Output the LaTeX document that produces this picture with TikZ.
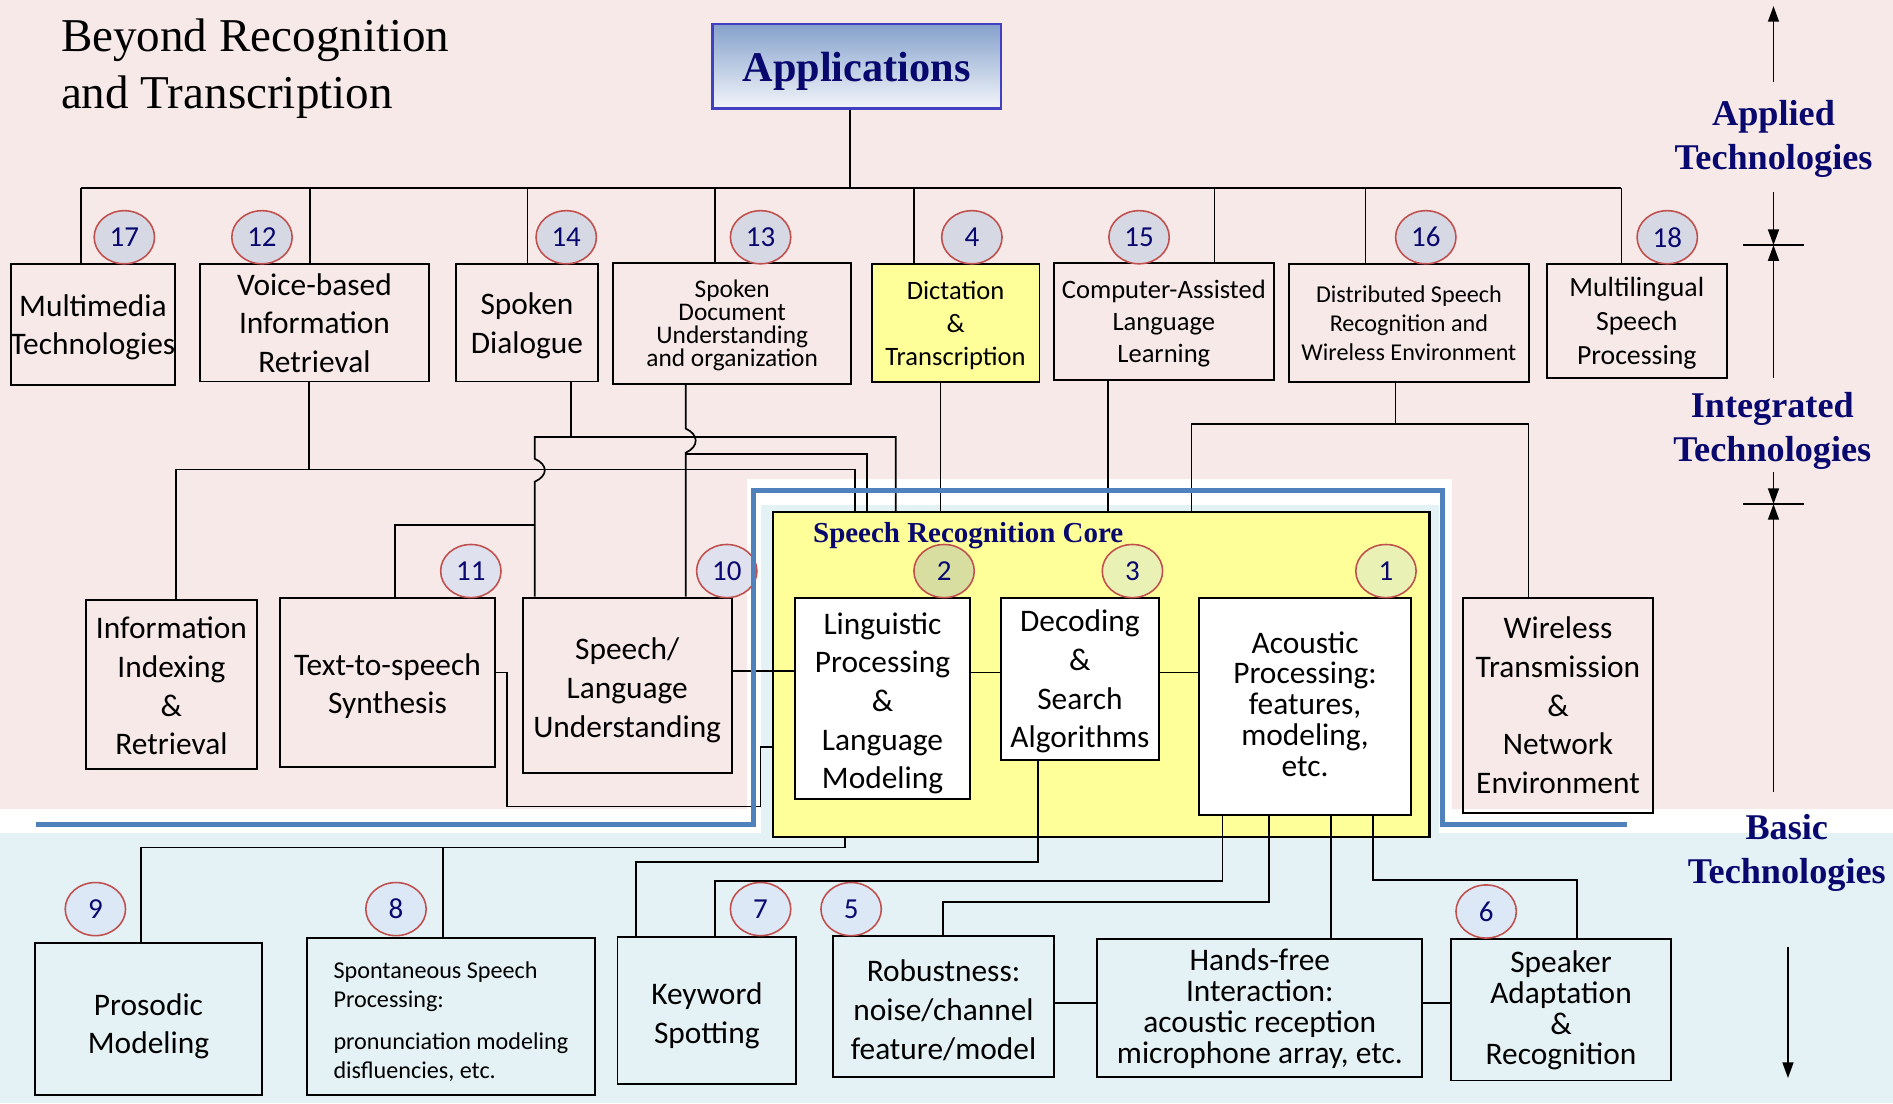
\documentclass[tikz,border=0pt]{standalone}
\usepackage{fontspec}
\setmainfont{Carlito}
\newfontfamily\tnr{Liberation Serif}
\usepackage{tikz}
\usetikzlibrary{shapes.geometric}
\usetikzlibrary{arrows.meta}
\definecolor{pinkbg}{RGB}{248,233,233}
\definecolor{bluebg}{RGB}{228,241,245}
\definecolor{coreyel}{RGB}{255,255,153}
\definecolor{frameblue}{RGB}{79,129,189}
\definecolor{navy}{RGB}{8,8,110}
\definecolor{numred}{RGB}{192,80,77}
\definecolor{numgray}{RGB}{214,216,228}
\definecolor{numlav}{RGB}{224,225,238}
\definecolor{numolive}{RGB}{216,222,160}
\definecolor{numlime}{RGB}{233,241,181}
\definecolor{numblue}{RGB}{220,232,246}
\definecolor{appblue}{RGB}{133,161,204}
\definecolor{appedge}{RGB}{64,64,192}
\newcommand{\tallline}[1]{\rule{0pt}{#1}}
\tikzset{bx/.style={draw, line width=1.6pt, align=center, inner sep=0pt, text depth=0pt, font=\fontsize{26}{32}\selectfont}}
\tikzset{num/.style={ellipse, draw=numred, line width=1.3pt, minimum width=50pt, minimum height=44pt, inner sep=0pt, text=navy, font=\fontsize{24}{24}\selectfont}}
\tikzset{hd/.style={align=center, text=navy, font=\tnr\bfseries\fontsize{30}{36}\selectfont}}
\tikzset{ln/.style={line width=1.4pt}}
\tikzset{arr/.style={line width=1.5pt, -{Triangle[length=13pt,width=9pt]}}}

\begin{document}
\setlength{\lineskiplimit}{-30pt}
\begin{tikzpicture}[x=1pt, y=-1pt]
  \useasboundingbox (0,0) rectangle (1568,914);
  \fill[pinkbg] (0,0) rectangle (1568,670);
  \fill[white] (0,670) rectangle (1568,690);
  \fill[bluebg] (0,690) rectangle (1568,914);
  \fill[white] (619,397) rectangle (1203,690);
  \fill[bluebg] (630,418) rectangle (1192,700);
  \node[draw, line width=1.8pt, fill=coreyel, minimum width=544pt, minimum height=269pt] (core) at (912,558.5) {};
  \node[anchor=base west, text=navy, font=\tnr\bfseries\fontsize{24}{24}\selectfont] (corelbl) at (670,449) {Speech Recognition Core};

  \node[anchor=west, align=left, font=\tnr\fontsize{39}{47}\selectfont] (title) at (47,57) {Beyond Recognition\\and Transcription};
  \node[draw=appedge, line width=2pt, top color=appblue, bottom color=white!90!appblue, minimum width=239pt, minimum height=70pt, text depth=0pt, text=navy, font=\tnr\bfseries\fontsize{35}{35}\selectfont] (app) at (709.5,55) {Applications};

  \node[bx, minimum width=136pt, minimum height=100pt] (MT) at (77,269) {Multimedia\\Technologies};
  \node[bx, minimum width=189pt, minimum height=97pt] (VIR) at (260.5,267.5) {Voice-based\\Information\\Retrieval};
  \node[bx, minimum width=118pt, minimum height=97pt] (SDG) at (436.5,267.5) {Spoken\\Dialogue};
  \node[bx, font=\fontsize{21}{19}\selectfont, minimum width=197pt, minimum height=100pt] (SDU) at (606.5,268) {Spoken\\Document\\Understanding\\and organization};
  \node[bx, font=\fontsize{22}{27}\selectfont, fill=coreyel, minimum width=139pt, minimum height=97.5pt] (DT) at (791.5,267.75) {Dictation\\\&\\Transcription};
  \node[bx, font=\fontsize{22}{26.5}\selectfont, minimum width=182pt, minimum height=97pt] (CAL) at (964,266.5) {Computer-Assisted\\Language\\Learning};
  \node[bx, font=\fontsize{20}{24}\selectfont, minimum width=198.5pt, minimum height=97.5pt] (DSR) at (1167,267.75) {Distributed Speech\\Recognition and\\Wireless Environment};
  \node[bx, font=\fontsize{23}{28}\selectfont, minimum width=149.5pt, minimum height=94pt] (MSP) at (1355.75,266) {Multilingual\\Speech\\Processing};

  \node[bx, minimum width=142pt, minimum height=140pt] (IIR) at (142,567) {\tallline{20.5pt}Information\\Indexing\\\&\\Retrieval};
  \node[bx, minimum width=178pt, minimum height=140pt] (TTS) at (321,565) {\tallline{20.5pt}Text-to-speech\\Synthesis};
  \node[bx, minimum width=173pt, minimum height=145pt] (SLU) at (519.5,567.5) {\tallline{22pt}Speech/\\Language\\Understanding};
  \node[bx, fill=white, minimum width=145pt, minimum height=167pt] (LPM) at (731,578.5) {\tallline{21.5pt}Linguistic\\Processing\\\&\\Language\\Modeling};
  \node[bx, fill=white, minimum width=131pt, minimum height=134.5pt] (DSA) at (894.5,562.25) {Decoding\\\&\\Search\\Algorithms};
  \node[bx, text depth=4pt, fill=white, font=\fontsize{26}{25.5}\selectfont, minimum width=175pt, minimum height=180pt] (APM) at (1081,585) {Acoustic\\Processing:\\features,\\modeling,\\etc.};
  \node[bx, minimum width=157pt, minimum height=178.5pt] (WTN) at (1290.5,584.25) {Wireless\\Transmission\\\&\\Network\\Environment};

  \node[bx, minimum width=188pt, minimum height=126pt] (PM) at (123,844) {\tallline{25.5pt}Prosodic\\Modeling};
  \node[bx, align=left, font=\fontsize{20}{24}\selectfont, minimum width=238pt, minimum height=130pt] (SSP) at (373.5,842) {\tallline{20pt}Spontaneous Speech\\Processing:\\[11pt]pronunciation modeling\\disfluencies, etc.};
  \node[bx, minimum width=148pt, minimum height=122pt] (KS) at (585.5,837) {\tallline{22.5pt}Keyword\\Spotting};
  \node[bx, minimum width=183pt, minimum height=117pt] (RB) at (781.5,833.5) {\tallline{23.5pt}Robustness:\\noise/channel\\feature/model};
  \node[bx, text depth=3.5pt, font=\fontsize{26}{25.5}\selectfont, minimum width=269pt, minimum height=114pt] (HF) at (1043.5,835) {Hands-free\\Interaction:\\acoustic reception\\microphone array, etc.};
  \node[bx, text depth=3.5pt, font=\fontsize{26}{25.5}\selectfont, minimum width=181.5pt, minimum height=117pt] (SAR) at (1293,836.5) {Speaker\\Adaptation\\\&\\Recognition};

  \coordinate (bus) at (704,156);
  \draw[ln] (app.south -| 704,0) -- (bus);
  \draw[line width=1.7pt] (67,156) -- (1343,156);
  \foreach \b/\x in {MT/67, VIR/257, SDG/437, SDU/592, DT/757, CAL/1006, DSR/1131, MSP/1343}
    \draw[ln] (\x,156) -- (\b.north -| \x,0);

  \draw[ln] (VIR.south -| 256,0) -- (256,389);
  \draw[ln] (IIR.north -| 145.5,0) |- (708,389) -- (core.north -| 708,0);
  \draw[ln] (SDG.south -| 473,0) -- (473,362);
  \draw[ln] (core.north -| 742,0) |- (443,362) -- (443,380) .. controls (454,385) and (454,394) .. (443,399) -- (SLU.north -| 443,0);
  \draw[ln] (443,435) -| (TTS.north -| 327,0);
  \draw[ln] (SDU.south -| 568,0) -- (568,355) .. controls (579,360) and (579,370) .. (568,375) -- (SLU.north -| 568,0);
  \draw[ln] (568,376) -| (core.north -| 718,0);
  \draw[ln] (DT.south -| 779,0) -- (core.north -| 779,0);
  \draw[ln] (CAL.south -| 918,0) -- (core.north -| 918,0);
  \draw[ln] (DSR.south -| 1156,0) -- (1156,351);
  \draw[ln] (core.north -| 987,0) |- (1266,351) -- (WTN.north -| 1266,0);

  \draw[ln] (SLU.east |- 0,556) -- (LPM.west |- 0,556);
  \draw[ln] (LPM.east |- 0,557) -- (DSA.west |- 0,557);
  \draw[ln] (DSA.east |- 0,557) -- (APM.west |- 0,557);
  \draw[ln] (TTS.east |- 0,557) -| (420,668) -| (630,619) -- (core.west |- 0,619);

  \draw[ln] (core.south -| 700,0) -- (700,702) -| (PM.north -| 117,0);
  \draw[ln] (367,702) -- (SSP.north -| 367,0);
  \draw[ln] (DSA.south -| 860,0) |- (527,714) -- (KS.north -| 527,0);
  \draw[ln] (APM.south -| 1012.5,0) |- (592,730) -- (KS.north -| 592,0);
  \draw[ln] (APM.south -| 1051,0) |- (781,747) -- (RB.north -| 781,0);
  \draw[ln] (APM.south -| 1102.5,0) -- (HF.north -| 1102.5,0);
  \draw[ln] (APM.south -| 1137.5,0) |- (1306,729) -- (SAR.north -| 1306,0);
  \draw[ln] (RB.east |- 0,831) -- (HF.west |- 0,831);
  \draw[ln] (HF.east |- 0,831) -- (SAR.west |- 0,831);

  \foreach \n/\x in {17/103, 12/217, 14/469, 13/630, 4/805, 15/943.5, 16/1181, 18/1381}
    \node[num, fill=numgray] (n\n) at (\x,196.5) {\n};
  \foreach \n/\x/\c in {11/390/numlav, 10/602/numlav, 2/782/numolive, 3/938/numlime, 1/1148/numlime}
    \node[num, fill=\c] (n\n) at (\x,473) {\n};
  \foreach \n/\x in {9/79, 8/328, 7/630, 5/705}
    \node[num, fill=numblue] (n\n) at (\x,753) {\n};
  \node[num, fill=numblue] (n6) at (1231,755) {6};

  \draw[frameblue, line width=4pt] (30,683) -- (624,683) -- (624,406) -- (1195,406) -- (1195,683) -- (1348,683);

  \node[hd] (AT) at (1469,115) {Applied\\Technologies};
  \node[hd] (IT) at (1468,357) {Integrated\\Technologies};
  \node[hd] (BT) at (1480,706.5) {Basic\\Technologies};
  \coordinate (T1) at (1469,203);
  \coordinate (T2) at (1469,417.5);
  \draw[arr] (1469,68) -- (1469,5);
  \draw[arr] (1469,159) -- (T1);
  \draw[line width=1.5pt] (1444,203) -- (1494,203);
  \draw[arr] (1469,313) -- (T1);
  \draw[arr] (1469,391) -- (T2);
  \draw[line width=1.5pt] (1444,417.5) -- (1494,417.5);
  \draw[arr] (1469,656) -- (T2);
  \draw[arr] (1481,784) -- (1481,893);
\end{tikzpicture}
\end{document}
